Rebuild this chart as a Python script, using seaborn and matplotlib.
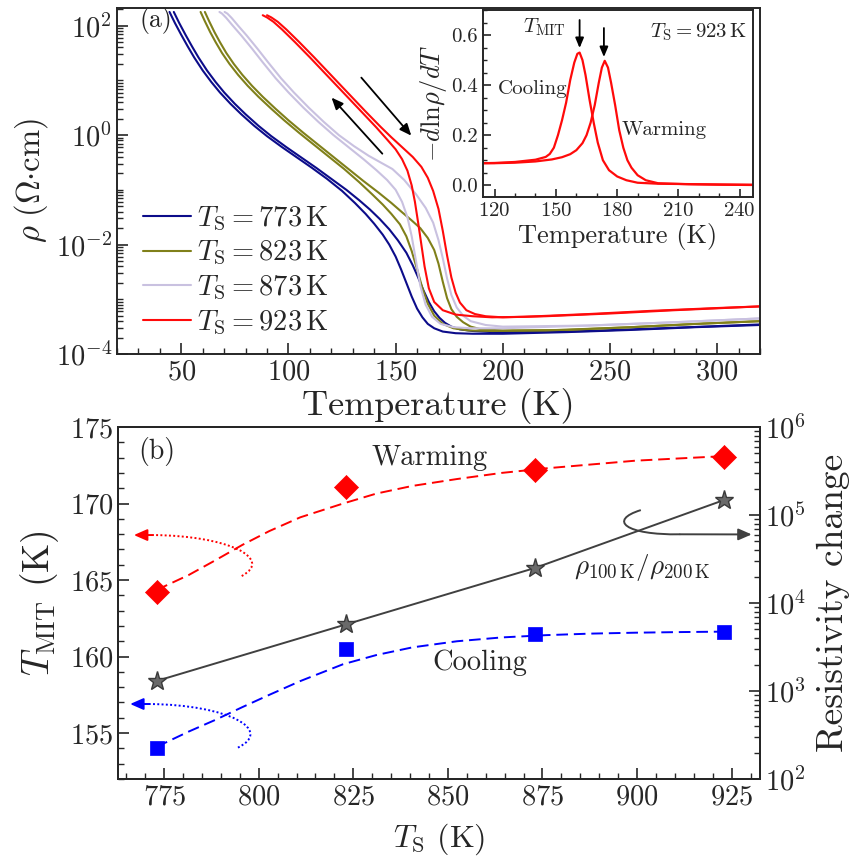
import numpy as np
import pandas as pd
import matplotlib
matplotlib.use("Agg")
import matplotlib.pyplot as plt
import matplotlib.ticker as mticker
from matplotlib.path import Path
from matplotlib.patches import PathPatch
from matplotlib.lines import Line2D
import seaborn as sns

# ---------------- panel (a): rho(T), log10(rho / Ohm cm) ----------------
T_773_cool = [44.5, 47, 50, 53, 56, 60, 64, 68, 73, 78, 84, 90, 97, 104, 111, 118, 125, 131, 136, 140, 144, 147, 150, 152.5, 155, 157.5, 160, 162.5, 165, 168, 172, 178, 186, 200, 230, 260, 290, 320]
lg_773_cool = [2.25, 2.05, 1.83, 1.62, 1.42, 1.18, 0.97, 0.78, 0.57, 0.38, 0.17, -0.02, -0.22, -0.41, -0.60, -0.80, -1.02, -1.24, -1.44, -1.62, -1.82, -2.00, -2.22, -2.45, -2.70, -2.95, -3.17, -3.33, -3.45, -3.53, -3.59, -3.62, -3.63, -3.63, -3.60, -3.56, -3.51, -3.47]
T_773_warm = [46.5, 49, 52, 55, 58, 62, 66, 70, 75, 80, 86, 92, 99, 106, 113, 120, 127, 133, 138, 142.5, 147, 151, 155, 158, 160.5, 163, 165.5, 168, 170.5, 173, 176, 180, 186, 195, 210, 240, 280, 320]
lg_773_warm = [2.25, 2.05, 1.83, 1.62, 1.42, 1.18, 0.97, 0.78, 0.57, 0.38, 0.17, -0.02, -0.22, -0.41, -0.60, -0.80, -1.00, -1.19, -1.36, -1.53, -1.72, -1.92, -2.15, -2.38, -2.60, -2.84, -3.05, -3.22, -3.34, -3.43, -3.50, -3.55, -3.58, -3.60, -3.60, -3.58, -3.52, -3.46]

T_823_cool = [59, 61, 63.5, 66, 69, 72.5, 76.5, 81, 86, 92, 98, 105, 112, 119, 126, 133, 139, 144, 148, 152, 155, 157.5, 160, 162.5, 165, 168, 172, 177, 184, 195, 220, 260, 290, 320]
lg_823_cool = [2.25, 2.08, 1.88, 1.70, 1.50, 1.30, 1.10, 0.90, 0.70, 0.48, 0.27, 0.04, -0.18, -0.40, -0.62, -0.86, -1.08, -1.27, -1.44, -1.63, -1.85, -2.12, -2.45, -2.80, -3.08, -3.30, -3.45, -3.53, -3.57, -3.58, -3.57, -3.51, -3.45, -3.40]
T_823_warm = [61, 63, 65.5, 68, 71, 74.5, 78.5, 83, 88, 94, 100, 107, 114, 121, 128, 135, 142, 148, 153, 157.5, 161.5, 165, 168, 170, 172, 174, 176, 178.5, 181.5, 185, 190, 200, 230, 260, 290, 320]
lg_823_warm = [2.25, 2.08, 1.88, 1.70, 1.50, 1.30, 1.10, 0.90, 0.70, 0.48, 0.27, 0.04, -0.18, -0.40, -0.62, -0.84, -1.05, -1.24, -1.41, -1.56, -1.70, -1.88, -2.10, -2.35, -2.68, -2.98, -3.18, -3.32, -3.42, -3.50, -3.55, -3.57, -3.56, -3.51, -3.45, -3.40]

T_873_cool = [67.8, 69, 71, 74, 78, 83, 88, 94, 100, 107, 114, 121, 128, 135, 141, 146, 150, 153, 155.5, 157.5, 159.5, 161.5, 164, 167, 171, 177, 185, 200, 240, 280, 320]
lg_873_cool = [2.25, 2.22, 2.14, 2.00, 1.82, 1.58, 1.33, 1.04, 0.78, 0.50, 0.24, 0.0, -0.22, -0.44, -0.64, -0.82, -1.00, -1.22, -1.50, -1.85, -2.30, -2.75, -3.10, -3.32, -3.45, -3.51, -3.53, -3.53, -3.48, -3.42, -3.35]
T_873_warm = [70.2, 71.5, 73.5, 76.5, 80.5, 85.5, 90.5, 96.5, 102.5, 109.5, 116.5, 123.5, 130.5, 137.5, 143, 148.5, 154, 159.5, 164, 167.5, 170, 172, 174, 176, 178.5, 181.5, 185, 192, 200, 240, 280, 320]
lg_873_warm = [2.25, 2.22, 2.14, 2.00, 1.82, 1.58, 1.33, 1.04, 0.78, 0.50, 0.24, 0.0, -0.20, -0.38, -0.50, -0.62, -0.82, -1.08, -1.33, -1.60, -1.92, -2.25, -2.62, -2.92, -3.15, -3.30, -3.40, -3.47, -3.50, -3.48, -3.42, -3.35]

T_923_cool = [88, 90, 93, 97, 103, 110, 118, 126, 134, 141, 146, 150, 153, 155.5, 157.5, 159, 160.5, 162, 163.5, 165.5, 168, 172, 178, 186, 195, 210, 240, 270, 300, 320]
lg_923_cool = [2.19, 2.15, 2.07, 1.93, 1.70, 1.42, 1.09, 0.76, 0.43, 0.14, -0.08, -0.26, -0.44, -0.65, -0.92, -1.22, -1.60, -2.00, -2.40, -2.80, -3.05, -3.20, -3.28, -3.31, -3.33, -3.32, -3.27, -3.21, -3.16, -3.13]
T_923_warm = [90, 92, 95, 99, 105, 112, 120, 128, 136, 143, 148, 153, 158, 162, 165, 167.5, 170, 172, 174, 176, 178, 180, 183, 187, 192, 200, 220, 250, 280, 320]
lg_923_warm = [2.19, 2.15, 2.07, 1.93, 1.70, 1.42, 1.09, 0.76, 0.43, 0.15, -0.04, -0.22, -0.40, -0.58, -0.78, -1.02, -1.35, -1.75, -2.20, -2.60, -2.88, -3.06, -3.20, -3.27, -3.31, -3.33, -3.31, -3.26, -3.20, -3.13]

series_a = [
    ("773", T_773_cool, lg_773_cool, T_773_warm, lg_773_warm),
    ("823", T_823_cool, lg_823_cool, T_823_warm, lg_823_warm),
    ("873", T_873_cool, lg_873_cool, T_873_warm, lg_873_warm),
    ("923", T_923_cool, lg_923_cool, T_923_warm, lg_923_warm),
]
colors_a = {"773": "#0c0c8a", "823": "#80801a", "873": "#c9c1e0", "923": "#ff0a0a"}

# ---------------- inset: -dln(rho)/dT for Ts = 923 K ----------------
Tin_cool = [114, 120, 130, 140, 145, 147, 149, 151, 153, 155, 157, 159, 160.5, 161.6, 163, 164.5, 166.5, 168.5, 170.5, 173, 176, 180, 184.5, 190, 200, 220, 246]
dl_cool = [0.088, 0.089, 0.093, 0.102, 0.113, 0.125, 0.15, 0.20, 0.26, 0.33, 0.42, 0.49, 0.525, 0.53, 0.50, 0.44, 0.34, 0.25, 0.17, 0.10, 0.06, 0.035, 0.02, 0.01, 0.006, 0.004, 0.002]
Tin_warm = [114, 120, 130, 140, 148, 153, 157, 160, 163, 165, 167, 169, 171, 172.5, 173.9, 175.5, 177, 179, 181, 183, 185, 187, 190, 194, 200, 215, 230, 246]
dl_warm = [0.088, 0.088, 0.090, 0.095, 0.103, 0.112, 0.124, 0.140, 0.168, 0.20, 0.25, 0.32, 0.41, 0.47, 0.497, 0.47, 0.41, 0.32, 0.22, 0.15, 0.10, 0.07, 0.04, 0.02, 0.008, 0.004, 0.002, 0.001]

# ---------------- panel (b) ----------------
Ts = [773, 823, 873, 923]
Tmit_warm = [164.2, 171.1, 172.2, 173.05]
Tmit_cool = [154.0, 160.5, 161.5, 161.6]
rho_ratio = [1.3e3, 5.7e3, 2.5e4, 1.48e5]
fit_T = [773, 781.5, 788.6, 795.7, 802.8, 811.0, 822.3, 831.1, 840.6, 852.4, 864.2, 876.0, 887.8, 899.6, 911.4, 923.2]
fit_warm = [164.35, 165.33, 166.3, 167.3, 168.2, 169.1, 170.0, 170.65, 171.15, 171.6, 172.0, 172.3, 172.55, 172.8, 172.95, 173.1]
fit_cool = [154.1, 155.1, 155.87, 156.7, 157.5, 158.4, 159.5, 160.1, 160.6, 161.0, 161.25, 161.4, 161.5, 161.56, 161.6, 161.63]

# ---------------- style ----------------
sns.set_style("ticks")
plt.rcParams.update({
    "font.family": ["cmr10", "DejaVu Serif"],
    "mathtext.fontset": "cm",
    "axes.formatter.use_mathtext": True,
    "axes.unicode_minus": False,
    "axes.linewidth": 1.4,
    "xtick.direction": "in", "ytick.direction": "in",
    "xtick.major.width": 1.2, "ytick.major.width": 1.2,
    "xtick.minor.width": 1.0, "ytick.minor.width": 1.0,
    "xtick.major.size": 8, "ytick.major.size": 8,
    "xtick.minor.size": 4, "ytick.minor.size": 4,
})

TICK = 20.5

fig = plt.figure(figsize=(8.59, 8.63), dpi=100)
W, H = 859.0, 863.0

# ======== panel (a) ========
axA = fig.add_axes([117 / W, 1 - 354 / H, 643 / W, 346 / H])
axA.set_yscale("log")
handles = []
for key, Tc, lc, Tw, lw_ in series_a:
    col = colors_a[key]
    for T, lg in ((Tc, lc), (Tw, lw_)):
        df = pd.DataFrame({"T": T, "rho": np.power(10.0, lg)})
        sns.lineplot(data=df, x="T", y="rho", ax=axA, color=col, lw=1.5,
                     sort=False, estimator=None, legend=False)
    handles.append(Line2D([0], [0], color=col, lw=1.5,
                          label=r"$T_{\mathrm{S}}=%s\,\mathrm{K}$" % key))
axA.set_xlim(20, 320)
axA.set_ylim(1e-4, 2.1e2)
axA.xaxis.set_major_locator(mticker.MultipleLocator(50))
axA.xaxis.set_minor_locator(mticker.MultipleLocator(10))
axA.yaxis.set_major_locator(mticker.FixedLocator([1e-4, 1e-2, 1e0, 1e2]))
axA.yaxis.set_minor_locator(mticker.LogLocator(base=10, subs=np.arange(1, 10), numticks=30))
axA.yaxis.set_minor_formatter(mticker.NullFormatter())
axA.yaxis.set_major_formatter(mticker.LogFormatterSciNotation())
axA.tick_params(axis="both", which="both", top=False, right=False, labelsize=TICK)
axA.set_xlabel("Temperature (K)", fontsize=26, labelpad=2)
axA.set_ylabel(r"$\rho\ (\Omega{\cdot}\mathrm{cm})$", fontsize=23.5, labelpad=4)
axA.text(30.5, 10 ** 2.10, "(a)", fontsize=18.5, ha="left", va="center")
leg = axA.legend(handles=handles, loc="lower left", bbox_to_anchor=(0.04, 0.05),
                 frameon=False, fontsize=TICK, handlelength=1.7, handletextpad=0.2,
                 labelspacing=0.23, borderpad=0, borderaxespad=0)
arr = dict(arrowstyle="-|>,head_length=0.7,head_width=0.3", color="k", lw=1.3,
           shrinkA=0, shrinkB=0)
axA.annotate("", xy=(120.1, 10 ** 0.685), xytext=(143.8, 10 ** -0.34), arrowprops=arr)
axA.annotate("", xy=(157.3, 10 ** -0.01), xytext=(134.0, 10 ** 1.05), arrowprops=arr)

# ======== inset ========
axI = fig.add_axes([483 / W, 1 - 197 / H, 270 / W, 187 / H])
sns.lineplot(x=Tin_cool, y=dl_cool, ax=axI, color="#ff0a0a", lw=1.6, sort=False, estimator=None)
sns.lineplot(x=Tin_warm, y=dl_warm, ax=axI, color="#ff0a0a", lw=1.6, sort=False, estimator=None)
axI.set_xlim(114.3, 246.5)
axI.set_ylim(-0.047, 0.70)
axI.xaxis.set_major_locator(mticker.MultipleLocator(30))
axI.xaxis.set_minor_locator(mticker.MultipleLocator(10))
axI.yaxis.set_major_locator(mticker.MultipleLocator(0.2))
axI.yaxis.set_minor_locator(mticker.MultipleLocator(0.05))
axI.yaxis.set_major_formatter(mticker.FormatStrFormatter("%.1f"))
axI.tick_params(axis="both", which="both", top=False, right=False, labelsize=15)
axI.tick_params(which="major", length=6)
axI.tick_params(which="minor", length=3)
axI.set_xlabel("Temperature (K)", fontsize=19, labelpad=2)
axI.set_ylabel(r"$-d\mathrm{ln}\rho/dT$", fontsize=19, labelpad=2)
iarr = dict(arrowstyle="-|>,head_length=0.6,head_width=0.25", color="k", lw=1.3,
            shrinkA=0, shrinkB=0)
axI.annotate("", xy=(161.6, 0.548), xytext=(161.6, 0.66), arrowprops=iarr)
axI.annotate("", xy=(173.5, 0.512), xytext=(173.5, 0.628), arrowprops=iarr)
axI.text(144.5, 0.63, r"$T_{\mathrm{MIT}}$", fontsize=15, ha="center", va="center")
axI.text(243.4, 0.61, r"$T_{\mathrm{S}}=923\,\mathrm{K}$", fontsize=15, ha="right", va="center")
axI.text(138.6, 0.385, "Cooling", fontsize=15, ha="center", va="center")
axI.text(203.0, 0.22, "Warming", fontsize=15, ha="center", va="center")

# ======== panel (b) ========
axB = fig.add_axes([118 / W, 1 - 779 / H, 642 / W, 352 / H])
axR = axB.twinx()
axR.set_yscale("log")

sns.lineplot(x=fit_T, y=fit_warm, ax=axB, color="#ff0000", lw=1.4,
             linestyle=(0, (6, 3)), sort=False, estimator=None)
sns.lineplot(x=fit_T, y=fit_cool, ax=axB, color="#0000ff", lw=1.4,
             linestyle=(0, (6, 3)), sort=False, estimator=None)
sns.scatterplot(x=Ts, y=Tmit_warm, ax=axB, marker="D", s=150, color="#ff0000",
                edgecolor="#ff0000", linewidth=0.5, zorder=5)
sns.scatterplot(x=Ts, y=Tmit_cool, ax=axB, marker="s", s=95, color="#0000ff",
                edgecolor="#0000ff", linewidth=0.5, zorder=5)
sns.lineplot(x=Ts, y=rho_ratio, ax=axR, color="#404040", lw=1.4, marker="*",
             markersize=14, markerfacecolor="#6a6a6a", markeredgecolor="#3a3a3a",
             markeredgewidth=1.0, sort=False, estimator=None)

axB.set_xlim(762.8, 932.5)
axB.set_ylim(152.0, 175.0)
axR.set_ylim(1e2, 1e6)
axB.xaxis.set_major_locator(mticker.MultipleLocator(25))
axB.xaxis.set_minor_locator(mticker.MultipleLocator(5))
axB.yaxis.set_major_locator(mticker.MultipleLocator(5))
axB.yaxis.set_minor_locator(mticker.MultipleLocator(1))
axR.yaxis.set_major_locator(mticker.LogLocator(base=10, numticks=10))
axR.yaxis.set_minor_locator(mticker.LogLocator(base=10, subs=np.arange(2, 10), numticks=30))
axR.yaxis.set_minor_formatter(mticker.NullFormatter())
axB.tick_params(axis="both", which="both", top=False, right=False, labelsize=TICK)
axR.tick_params(axis="y", which="both", direction="in", labelsize=TICK)
axB.set_xlabel(r"$T_{\mathrm{S}}$ (K)", fontsize=23, labelpad=8)
axB.set_ylabel(r"$T_{\mathrm{MIT}}$ (K)", fontsize=27, labelpad=6)
axR.set_ylabel("Resistivity change", fontsize=27, labelpad=8)

axB.text(773.0, 173.4, "(b)", fontsize=20, ha="center", va="center")
axB.text(845.2, 173.0, "Warming", fontsize=20.5, ha="center", va="center")
axB.text(858.5, 159.6, "Cooling", fontsize=20.5, ha="center", va="center")
axB.text(901.4, 165.8, r"$\rho_{100\,\mathrm{K}}/\rho_{200\,\mathrm{K}}$", fontsize=19.5,
         ha="center", va="center")

# curved dotted guide arrows (annotation geometry)
def curve(ax, pts, color, ls, tip_from, tip_to):
    codes = [Path.MOVETO, Path.CURVE4, Path.CURVE4, Path.CURVE4]
    ax.add_patch(PathPatch(Path(pts, codes), fill=False, edgecolor=color, lw=1.4, linestyle=ls))
    ax.annotate("", xy=tip_to, xytext=tip_from,
                arrowprops=dict(arrowstyle="-|>,head_length=0.8,head_width=0.35",
                                color=color, lw=1.4, shrinkA=0, shrinkB=0))

curve(axB, [(795.5, 165.26), (804.0, 166.4), (792.0, 167.9), (772.0, 167.94)],
      "#ff0000", (0, (1, 1.2)), (772.0, 167.94), (767.0, 167.94))
curve(axB, [(794.5, 154.05), (804.0, 155.2), (792.0, 156.85), (771.0, 156.9)],
      "#0000ff", (0, (1, 1.2)), (771.0, 156.9), (766.0, 156.9))
curve(axB, [(901.0, 169.57), (892.3, 168.91), (896.8, 167.93), (911.4, 167.99)],
      "#404040", "-", (911.4, 167.99), (930.3, 167.98))

fig.savefig("out.png", dpi=100)
